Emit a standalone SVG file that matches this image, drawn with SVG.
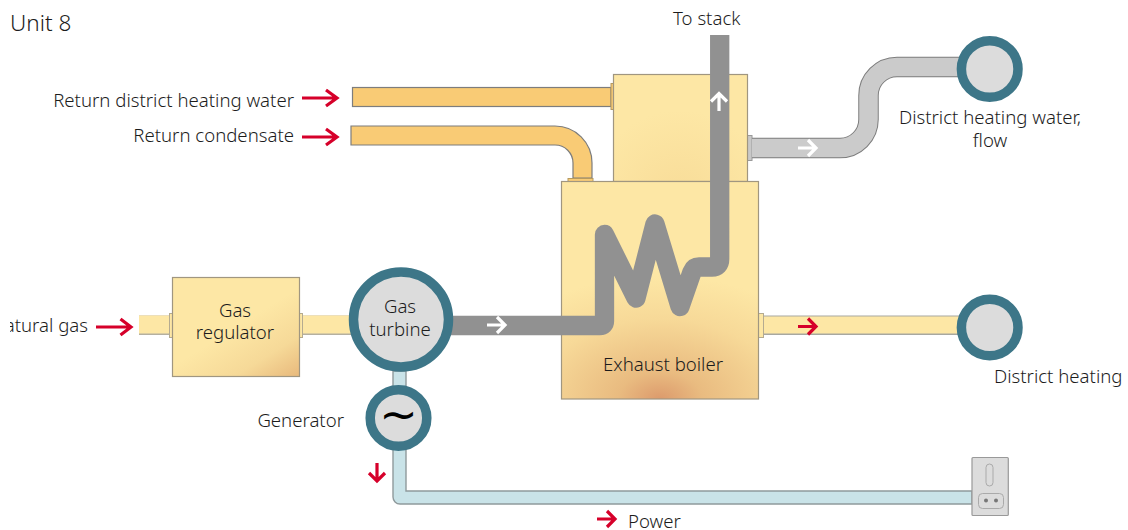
<svg xmlns="http://www.w3.org/2000/svg" width="1128" height="530" viewBox="0 0 1128 530">
<style>
text{font-family:"Noto Sans","Liberation Sans",sans-serif;font-weight:300;font-size:18.6px;fill:#1c1c1c}
.e{text-anchor:end}.m{text-anchor:middle}
.box{stroke:#a09680;stroke-width:1.2}
.gaspipe{fill:#fde7a5}
.flange{fill:#fde7a5;stroke:#b5ab90;stroke-width:1}
.oflange{fill:#f9cb75;stroke:#b59a60;stroke-width:1}
.opipe{fill:#f9cb75;stroke:#7d7d7d;stroke-width:1.2}
.ring{fill:#dcdcdc;stroke:#3d7688;stroke-width:9.5}
.red{fill:none;stroke:#d6002a;stroke-width:3.2}
.wht{fill:none;stroke:#fff;stroke-width:3.2}
.edge{fill:none;stroke:#7d7d7d;stroke-width:20.5}
</style>
<defs>
<linearGradient id="reg" x1="0.2" y1="0" x2="1" y2="1"><stop offset="0.45" stop-color="#fde7a5"/><stop offset="0.75" stop-color="#f6d998"/><stop offset="1" stop-color="#e8b97c"/></linearGradient>
<radialGradient id="boil" gradientUnits="userSpaceOnUse" cx="660" cy="399" r="190" gradientTransform="translate(0 140) scale(1 0.65)"><stop offset="0" stop-color="#dc9a6c"/><stop offset="0.22" stop-color="#e9bb80"/><stop offset="0.65" stop-color="#f7d998"/><stop offset="1" stop-color="#fde7a5"/></radialGradient>
<radialGradient id="top" gradientUnits="userSpaceOnUse" cx="680" cy="200" r="90"><stop offset="0" stop-color="#f8dc98"/><stop offset="1" stop-color="#fde7a5"/></radialGradient>
<clipPath id="cl"><rect x="10" y="300" width="100" height="50"/></clipPath>
</defs>
<g id="connectors">
<rect x="139" y="315.500" width="31" height="19.500" fill="#b5b0a0"/><rect x="139" y="315.500" width="31" height="18" class="gaspipe"/>
<rect x="302" y="315.500" width="50" height="19.500" fill="#b5b0a0"/><rect x="302" y="315.500" width="50" height="18" class="gaspipe"/>
<rect x="764" y="315.500" width="198" height="19.500" fill="#a8a8a0"/><rect x="764" y="316.500" width="198" height="17" class="gaspipe"/>
<rect class="flange" x="169.500" y="313.500" width="3" height="24"/>
<rect class="flange" x="299.500" y="313.500" width="3" height="24"/>
<rect class="flange" x="758.500" y="313.500" width="5" height="24"/>
<rect class="opipe" x="352.500" y="87.500" width="258.500" height="19"/>
<rect class="oflange" x="611" y="83.500" width="2.500" height="26"/>
<path class="opipe" d="M351 126H555A37 37 0 0 1 592 163V178H573V163A18 18 0 0 0 555 145H351Z"/>
<rect class="oflange" x="568" y="178.500" width="25" height="3"/>
<path d="M393 371V497A7 7 0 0 0 400 504H972V491H406V371Z" fill="#c9e3e8" stroke="#8f9a9c" stroke-width="1.400"/>
<rect x="747.500" y="135.500" width="4.500" height="25" fill="#c8c8c8" stroke="#9a9a9a"/>
<path class="edge" d="M752 148H840A28.500 28.500 0 0 0 868.500 119.500V95.500A28.500 28.500 0 0 1 897 67H965"/>
<path fill="none" stroke="#cbcbcb" stroke-width="18.500" d="M752 148H840A28.500 28.500 0 0 0 868.500 119.500V95.500A28.500 28.500 0 0 1 897 67H965"/>
</g>
<g id="boiler-top"><rect class="box" x="613.500" y="74.500" width="134" height="107" fill="url(#top)"/></g>
<g id="boiler"><rect class="box" x="561.500" y="181.500" width="197" height="217.500" fill="url(#boil)"/><text class="m" x="663" y="371">Exhaust boiler</text></g>
<g id="exhaust"><path fill="none" stroke="#919191" stroke-width="19.300" stroke-linejoin="round" d="M450 325.500H600Q604.500 325.500 604.500 321V234.500L636 298L655 224L680 306.500L692 272Q694 267 699 267H712Q719.700 267 719.700 259V35"/></g>
<g id="regulator"><rect class="box" x="172.500" y="277.500" width="127" height="99" fill="url(#reg)"/><text class="m" x="235" y="317">Gas</text><text class="m" x="235" y="339">regulator</text></g>
<g id="turbine"><circle class="ring" cx="401" cy="319.500" r="47.500"/><text class="m" x="400" y="313">Gas</text><text class="m" x="400" y="336">turbine</text></g>
<g id="generator"><circle class="ring" cx="398.500" cy="418" r="28.300"/><text class="m" x="398.500" y="430" style="font-family:'DejaVu Sans',sans-serif;font-size:46px;font-weight:400;fill:#000">~</text></g>
<g id="dh-flow"><circle class="ring" cx="989.700" cy="69" r="28.300"/></g>
<g id="dh"><circle class="ring" cx="989.700" cy="327.500" r="28.300"/></g>
<g id="socket"><rect x="972" y="457.500" width="36.300" height="58" rx="1" fill="#dcdcdc" stroke="#999" stroke-width="1.200"/><rect x="986" y="464" width="7" height="22" rx="3.500" fill="none" stroke="#aaa"/><rect x="978.500" y="493.500" width="25" height="15" rx="4" fill="none" stroke="#aaa"/><circle cx="986" cy="500.500" r="2" fill="#777"/><circle cx="996" cy="500.500" r="2" fill="#777"/></g>
<g id="labels">
<text x="10" y="30.500" style="font-size:22.500px">Unit 8</text>
<text x="673" y="24.500">To stack</text>
<text class="e" x="294" y="107">Return district heating water</text>
<text class="e" x="294" y="142">Return condensate</text>
<text class="e" x="88" y="332" clip-path="url(#cl)">Natural gas</text>
<text class="e" x="344" y="427">Generator</text>
<text class="m" x="990" y="124">District heating water,</text>
<text class="m" x="990" y="147">flow</text>
<text x="994" y="382.500">District heating</text>
<text x="628" y="527.500">Power</text>
</g>
<g id="flow-arrows">
<path class="red" d="M302 98H337M326 90L337 98L326 106"/>
<path class="red" d="M302 137H337M326 129L337 137L326 145"/>
<path class="red" d="M96 327H131M120.500 319L131 327L120.500 335"/>
<path class="red" d="M798 326.500H816M808 318.500L816 326.500L808 334.500"/>
<path class="red" d="M377 463V481M369 473L377 481L385 473"/>
<path class="red" d="M597 519H615M607 511L615 519L607 527"/>
<path class="wht" d="M487 325H505M497 317L505 325L497 333"/>
<path class="wht" d="M719 111V93.500M711 101.500L719 93.500L727 101.500"/>
<path class="wht" d="M798 148H816M808 140L816 148L808 156"/>
</g>
</svg>
